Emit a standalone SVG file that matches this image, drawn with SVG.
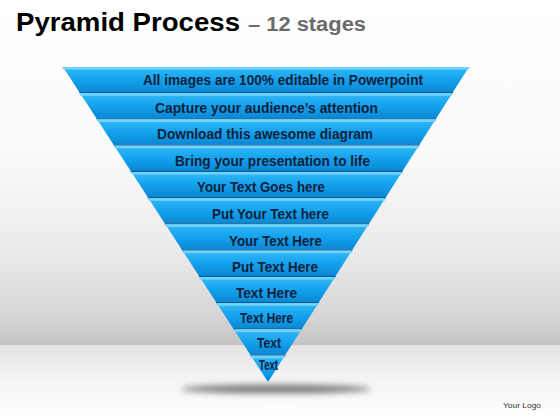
<svg xmlns="http://www.w3.org/2000/svg" width="560" height="420" viewBox="0 0 560 420">
  <defs>
    <linearGradient id="wall" x1="0" y1="0" x2="0" y2="345" gradientUnits="userSpaceOnUse">
      <stop offset="0" stop-color="#ffffff"/>
      <stop offset="0.45" stop-color="#fafafa"/>
      <stop offset="0.72" stop-color="#ebebeb"/>
      <stop offset="0.9" stop-color="#d8d8d8"/>
      <stop offset="1" stop-color="#c4c4c4"/>
    </linearGradient>
    <linearGradient id="floor" x1="0" y1="345" x2="0" y2="420" gradientUnits="userSpaceOnUse">
      <stop offset="0" stop-color="#e2e2e2"/>
      <stop offset="0.5" stop-color="#f6f6f6"/>
      <stop offset="1" stop-color="#ffffff"/>
    </linearGradient>
    <linearGradient id="band" x1="0" y1="0" x2="0" y2="1">
      <stop offset="0" stop-color="#4cc6f8"/>
      <stop offset="0.12" stop-color="#2bb3f4"/>
      <stop offset="0.5" stop-color="#14a2ee"/>
      <stop offset="1" stop-color="#0a87d3"/>
    </linearGradient>
    <filter id="blur" x="-20%" y="-200%" width="140%" height="500%">
      <feGaussianBlur stdDeviation="3"/>
    </filter>
    <style>
      .body{fill:url(#band);}
      .hi{fill:#6fd3fa;}
      .edge{stroke:#0b5c92;stroke-width:1.3;fill:none;}
      .lbl{font-family:"Liberation Sans",Arial,sans-serif;font-weight:bold;font-size:14px;fill:#10213b;}
      .title{font-family:"Liberation Sans",Arial,sans-serif;font-weight:bold;}
    </style>
  </defs>

  <rect x="0" y="0" width="560" height="345" fill="url(#wall)"/>
  <rect x="0" y="345" width="560" height="75" fill="url(#floor)"/>
  <ellipse cx="276" cy="389" rx="95" ry="4.5" fill="#4a4a4a" opacity="0.7" filter="url(#blur)"/>

  <text class="title" x="16" y="31" font-size="26" fill="#000" textLength="224" lengthAdjust="spacingAndGlyphs">Pyramid Process</text>
  <text class="title" x="248" y="31" font-size="20" fill="#6b6b6b" textLength="118" lengthAdjust="spacingAndGlyphs">– 12 stages</text>

  <g id="stage-1">
    <polygon class="body" points="63,67 469,67 452.9,92.25 79.4,92.25"/>
    <polygon class="hi" points="62,67 470,67 468.4,69.5 63.6,69.5"/>
    <line class="edge" x1="79.4" y1="92.6" x2="452.9" y2="92.6"/>
    <text class="lbl" x="143" y="85" textLength="280" lengthAdjust="spacingAndGlyphs">All images are 100% editable in Powerpoint</text>
  </g>
  <g id="stage-2">
    <polygon class="body" points="80.1,93.25 452.3,93.25 436.1,118.5 96.5,118.5"/>
    <polygon class="hi" points="79.1,93.25 453.3,93.25 451.7,95.75 80.7,95.75"/>
    <line class="edge" x1="96.5" y1="118.85" x2="436.1" y2="118.85"/>
    <text class="lbl" x="155" y="113" textLength="223" lengthAdjust="spacingAndGlyphs">Capture your audience’s  attention</text>
  </g>
  <g id="stage-3">
    <polygon class="body" points="97.2,119.5 435.5,119.5 419.4,144.75 113.6,144.75"/>
    <polygon class="hi" points="96.2,119.5 436.5,119.5 434.9,122 97.8,122"/>
    <line class="edge" x1="113.6" y1="145.1" x2="419.4" y2="145.1"/>
    <text class="lbl" x="157" y="139" textLength="216" lengthAdjust="spacingAndGlyphs">Download this awesome diagram</text>
  </g>
  <g id="stage-4">
    <polygon class="body" points="114.3,145.75 418.8,145.75 402.6,171 130.7,171"/>
    <polygon class="hi" points="113.3,145.75 419.8,145.75 418.2,148.25 114.9,148.25"/>
    <line class="edge" x1="130.7" y1="171.35" x2="402.6" y2="171.35"/>
    <text class="lbl" x="175" y="166" textLength="195" lengthAdjust="spacingAndGlyphs">Bring your presentation to life</text>
  </g>
  <g id="stage-5">
    <polygon class="body" points="131.4,172 402,172 385.9,197.25 147.8,197.25"/>
    <polygon class="hi" points="130.4,172 403,172 401.4,174.5 132,174.5"/>
    <line class="edge" x1="147.8" y1="197.6" x2="385.9" y2="197.6"/>
    <text class="lbl" x="197" y="192" textLength="128" lengthAdjust="spacingAndGlyphs">Your Text Goes here</text>
  </g>
  <g id="stage-6">
    <polygon class="body" points="148.4,198.25 385.3,198.25 369.1,223.5 164.8,223.5"/>
    <polygon class="hi" points="147.4,198.25 386.3,198.25 384.7,200.75 149,200.75"/>
    <line class="edge" x1="164.8" y1="223.85" x2="369.1" y2="223.85"/>
    <text class="lbl" x="212" y="219" textLength="117" lengthAdjust="spacingAndGlyphs">Put Your Text here</text>
  </g>
  <g id="stage-7">
    <polygon class="body" points="165.5,224.5 368.5,224.5 352.4,249.75 181.9,249.75"/>
    <polygon class="hi" points="164.5,224.5 369.5,224.5 367.9,227 166.1,227"/>
    <line class="edge" x1="181.9" y1="250.1" x2="352.4" y2="250.1"/>
    <text class="lbl" x="229" y="246" textLength="93" lengthAdjust="spacingAndGlyphs">Your Text Here</text>
  </g>
  <g id="stage-8">
    <polygon class="body" points="182.6,250.75 351.8,250.75 335.6,276 199,276"/>
    <polygon class="hi" points="181.6,250.75 352.8,250.75 351.2,253.25 183.2,253.25"/>
    <line class="edge" x1="199" y1="276.35" x2="335.6" y2="276.35"/>
    <text class="lbl" x="232" y="272" textLength="86" lengthAdjust="spacingAndGlyphs">Put Text Here</text>
  </g>
  <g id="stage-9">
    <polygon class="body" points="199.7,277 335,277 318.9,302.25 216.1,302.25"/>
    <polygon class="hi" points="198.7,277 336,277 334.4,279.5 200.3,279.5"/>
    <line class="edge" x1="216.1" y1="302.6" x2="318.9" y2="302.6"/>
    <text class="lbl" x="236" y="298" textLength="61" lengthAdjust="spacingAndGlyphs">Text Here</text>
  </g>
  <g id="stage-10">
    <polygon class="body" points="216.8,303.25 318.3,303.25 302.1,328.5 233.2,328.5"/>
    <polygon class="hi" points="215.8,303.25 319.3,303.25 317.7,305.75 217.4,305.75"/>
    <line class="edge" x1="233.2" y1="328.85" x2="302.1" y2="328.85"/>
    <text class="lbl" x="240" y="323" font-size="13" textLength="53" lengthAdjust="spacingAndGlyphs">Text Here</text>
  </g>
  <g id="stage-11">
    <polygon class="body" points="233.9,329.5 301.5,329.5 285.4,354.75 250.3,354.75"/>
    <polygon class="hi" points="232.9,329.5 302.5,329.5 300.9,332 234.5,332"/>
    <line class="edge" x1="250.3" y1="355.1" x2="285.4" y2="355.1"/>
    <text class="lbl" x="257" y="348" font-size="13" textLength="24" lengthAdjust="spacingAndGlyphs">Text</text>
  </g>
  <g id="stage-12">
    <polygon class="body" points="250.9,355.75 284.8,355.75 268,382"/>
    <polygon class="hi" points="249.9,355.75 285.8,355.75 284.2,358.25 251.5,358.25"/>
    <text class="lbl" x="259" y="370" font-size="10" textLength="19" lengthAdjust="spacingAndGlyphs">Text</text>
  </g>

  <text x="503" y="408" font-family="Liberation Sans, Arial, sans-serif" font-size="8" fill="#333" textLength="38" lengthAdjust="spacingAndGlyphs">Your Logo</text>
</svg>
